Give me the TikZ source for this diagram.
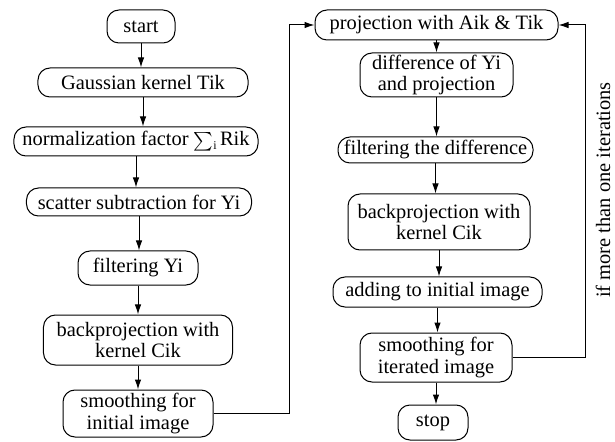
\documentclass[tikz,border=0pt]{standalone}
\usepackage{amsmath}
\usepackage{fontspec}
\setmainfont{Liberation Serif}
\usetikzlibrary{arrows.meta}
\newcommand{\sumi}{\raisebox{-0.05em}{\scalebox{0.9}{$\textstyle\sum$}}\raisebox{-0.35ex}{\fontsize{12}{12}\selectfont i}}
\begin{document}
\begin{tikzpicture}[x=1bp,y=-1bp,
 box/.style={draw, line width=1bp, rounded corners=12bp, align=center, inner sep=0pt, font=\fontsize{20.5}{22}\selectfont},
 arr/.style={line width=1bp, -{Latex[length=10bp,width=6.5bp]}},
 lbl/.style={font=\fontsize{20.5}{22}\selectfont, inner sep=0pt}]
\useasboundingbox (0,0) rectangle (615,442);
% left column
\node[box, minimum width=68bp, minimum height=33bp] (start) at (141,26.5) {start};
\node[box, minimum width=210bp, minimum height=29bp] (gauss) at (143,82.5) {Gaussian kernel Tik};
\node[box, minimum width=244bp, minimum height=29bp] (norm) at (136,141.5) {normalization factor \sumi\,Rik};
\node[box, minimum width=225bp, minimum height=28bp] (scat) at (139,202) {scatter subtraction for Yi};
\node[box, minimum width=120bp, minimum height=34bp] (filt) at (138,268) {filtering Yi};
\node[box, minimum width=189bp, minimum height=50bp] (bp) at (138,340) {backprojection with\\kernel Cik};
\node[box, minimum width=150bp, minimum height=47bp] (sm) at (138,413.5) {smoothing for\\initial image};
% right column
\node[box, minimum width=243bp, minimum height=30bp] (proj) at (436.5,25) {projection with Aik \& Tik};
\node[box, minimum width=153bp, minimum height=44bp] (diff) at (436.5,75) {difference of Yi\\and projection};
\node[box, minimum width=195bp, minimum height=26bp] (fd) at (435.5,150) {filtering the difference};
\node[box, minimum width=182bp, minimum height=56bp] (bp2) at (439,222) {backprojection with\\kernel Cik};
\node[box, minimum width=209bp, minimum height=30bp] (add) at (437.5,292) {adding to initial image};
\node[box, minimum width=152bp, minimum height=49bp] (sm2) at (436,357.5) {smoothing for\\iterated image};
\node[box, minimum width=70bp, minimum height=35bp] (stop) at (433,422.5) {stop};
% side label
\node[lbl, rotate=90] (lab) at (603,190) {if more than one iterations};
% vertical arrows
\foreach \a/\b in {start/gauss,gauss/norm,norm/scat,scat/filt,filt/bp,bp/sm,proj/diff,diff/fd,fd/bp2,bp2/add,add/sm2,sm2/stop}
  \draw[arr] (\a.south) -- (\a.south |- \b.north);
% loops
\coordinate (lx) at (289,0);
\coordinate (rx) at (585,0);
\draw[arr] (sm.east) -- (sm.east -| lx) |- (proj.west);
\draw[arr] (sm2.east) -- (sm2.east -| rx) |- (proj.east);
\end{tikzpicture}
\end{document}
